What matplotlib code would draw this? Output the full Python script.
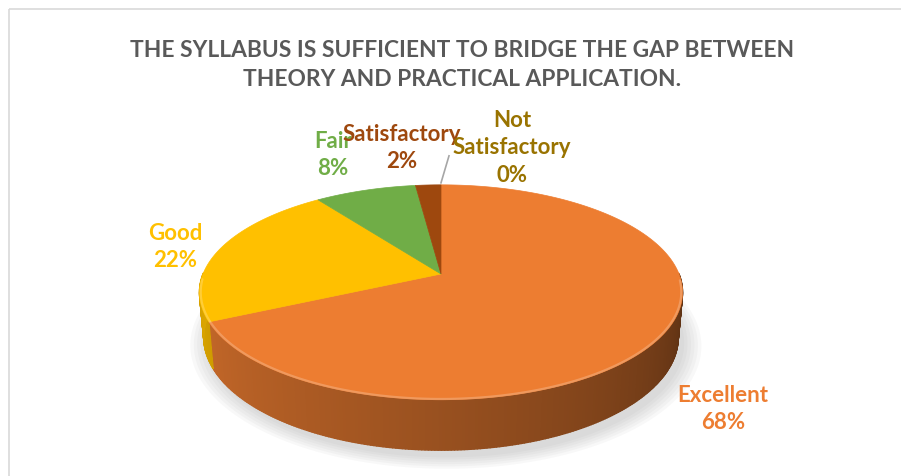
import numpy as np
import matplotlib.pyplot as plt
from matplotlib.collections import PolyCollection
from matplotlib.patches import Polygon, Rectangle
from matplotlib.colors import to_rgb

plt.rcParams['font.family'] = ['Lato', 'DejaVu Sans']

# ---- data ----
categories = ["Excellent", "Good", "Fair", "Satisfactory", "Not\nSatisfactory"]
percent = [68, 22, 8, 2, 0]
slice_colors = ["#ED7D31", "#FFC000", "#70AD47", "#9E480E", "#997300"]
label_colors = ["#ED7D31", "#FFC000", "#70AD47", "#9E480E", "#997300"]
title = "THE SYLLABUS IS SUFFICIENT TO BRIDGE THE GAP BETWEEN\nTHEORY AND PRACTICAL APPLICATION."

# label block centres in pixel coords (x, y)
label_pos = [(723, 409), (175, 247), (333, 155), (402, 148), (512, 148)]

# ---- 3D pie geometry (pixel space) ----
CX, CY = 441, 275        # projected centre of top face
S = 238                  # radius in px
TILT = np.radians(26)    # viewing elevation
F = 5.28                 # perspective distance (in radii)
H = 0.21                 # pie thickness (in radii)


def project(x, y, z):
    Y = y * np.sin(TILT) + z * np.cos(TILT)
    D = y * np.cos(TILT) - z * np.sin(TILT)
    fac = F / (F + D)
    return CX + S * x * fac, CY - S * Y * fac


def shade(rgb, t):
    # t = 0 at left of front side, 1 at right
    k = 0.86 - 0.50 * t ** 1.2
    return tuple(np.clip(np.array(rgb) * k, 0, 1))


fig = plt.figure(figsize=(9.01, 4.77), dpi=100)
ax = fig.add_axes([0, 0, 1, 1])
ax.set_xlim(0, 901)
ax.set_ylim(477, 0)
ax.axis('off')

# chart area border (only top / left visible)
ax.add_patch(Rectangle((9, 10), 1000, 1000, fill=False, edgecolor="#D9D9D9", lw=1.2))

frac = np.array(percent, dtype=float) / sum(percent)
cum = np.concatenate([[0], np.cumsum(frac)])
starts = 90 - cum[:-1] * 360
ends = 90 - cum[1:] * 360

# soft shadow under the pie
th = np.radians(np.linspace(0, 360, 200))
for grow in np.linspace(1.07, 1.0, 6):
    sx, sy = project(grow * np.cos(th) + 0.02, grow * np.sin(th) - 0.03, -H - 0.01)
    ax.add_patch(Polygon(np.column_stack([sx, sy]), closed=True,
                         facecolor="#7F7F7F", edgecolor="none", alpha=0.05, zorder=1))

# outer side (front half only)
quads, qcols = [], []
for a0, a1, col in zip(starts, ends, slice_colors):
    if a0 - a1 <= 0:
        continue
    ang = np.linspace(a0, a1, max(int((a0 - a1) * 1.5), 2))
    rgb = to_rgb(col)
    for p, q in zip(ang[:-1], ang[1:]):
        mid = np.radians((p + q) / 2)
        if np.sin(mid) > 0.01:
            continue
        pr, qr = np.radians(p), np.radians(q)
        x1, y1 = project(np.cos(pr), np.sin(pr), 0)
        x2, y2 = project(np.cos(qr), np.sin(qr), 0)
        x3, y3 = project(np.cos(qr), np.sin(qr), -H)
        x4, y4 = project(np.cos(pr), np.sin(pr), -H)
        quads.append([(x1, y1), (x2, y2), (x3, y3), (x4, y4)])
        t = ((np.degrees(mid) % 360) - 180) / 180
        qcols.append(shade(rgb, np.clip(t, 0, 1)))
ax.add_collection(PolyCollection(quads, facecolors=qcols, edgecolors=qcols, lw=1.0, zorder=2))

# top faces
for a0, a1, col in zip(starts, ends, slice_colors):
    if a0 - a1 <= 0:
        continue
    ang = np.radians(np.linspace(a0, a1, max(int((a0 - a1) * 2), 2)))
    px, py = project(np.cos(ang), np.sin(ang), 0)
    pts = np.column_stack([np.r_[CX, px], np.r_[CY, py]])
    ax.add_patch(Polygon(pts, closed=True, facecolor=col, edgecolor=col, lw=0.5, zorder=3))

# light bevel on the front rim
for a0, a1, col in zip(starts, ends, slice_colors):
    if a0 - a1 <= 0:
        continue
    ang = np.radians(np.linspace(a0, a1, 200))
    ang = ang[np.sin(ang) < -0.05]
    if len(ang) < 2:
        continue
    px, py = project(np.cos(ang) * 0.995, np.sin(ang) * 0.995, 0)
    light = tuple(np.clip(np.array(to_rgb(col)) * 0.6 + 0.4, 0, 1))
    ax.plot(px, py, color=light, lw=1.6, alpha=0.55, zorder=4, solid_capstyle='round')

# leader line for the 0% slice
zero_idx = percent.index(0)
lx, ly = project(np.cos(np.radians(starts[zero_idx])), np.sin(np.radians(starts[zero_idx])), 0)
ax.plot([lx, lx + 8], [ly - 2, ly - 29], color="#A6A6A6", lw=1.2, zorder=5)

# data labels
for name, p, (x, y), c in zip(categories, percent, label_pos, label_colors):
    ax.text(x, y, f"{name}\n{p}%", color=c, fontsize=16, fontweight='bold',
            ha='center', va='center', multialignment='center', linespacing=1.4, zorder=6)

ax.text(462, 65, title, color="#595959", fontsize=16.4, fontweight='bold',
        ha='center', va='center', multialignment='center', linespacing=1.45)

fig.savefig("out.png", dpi=100)
